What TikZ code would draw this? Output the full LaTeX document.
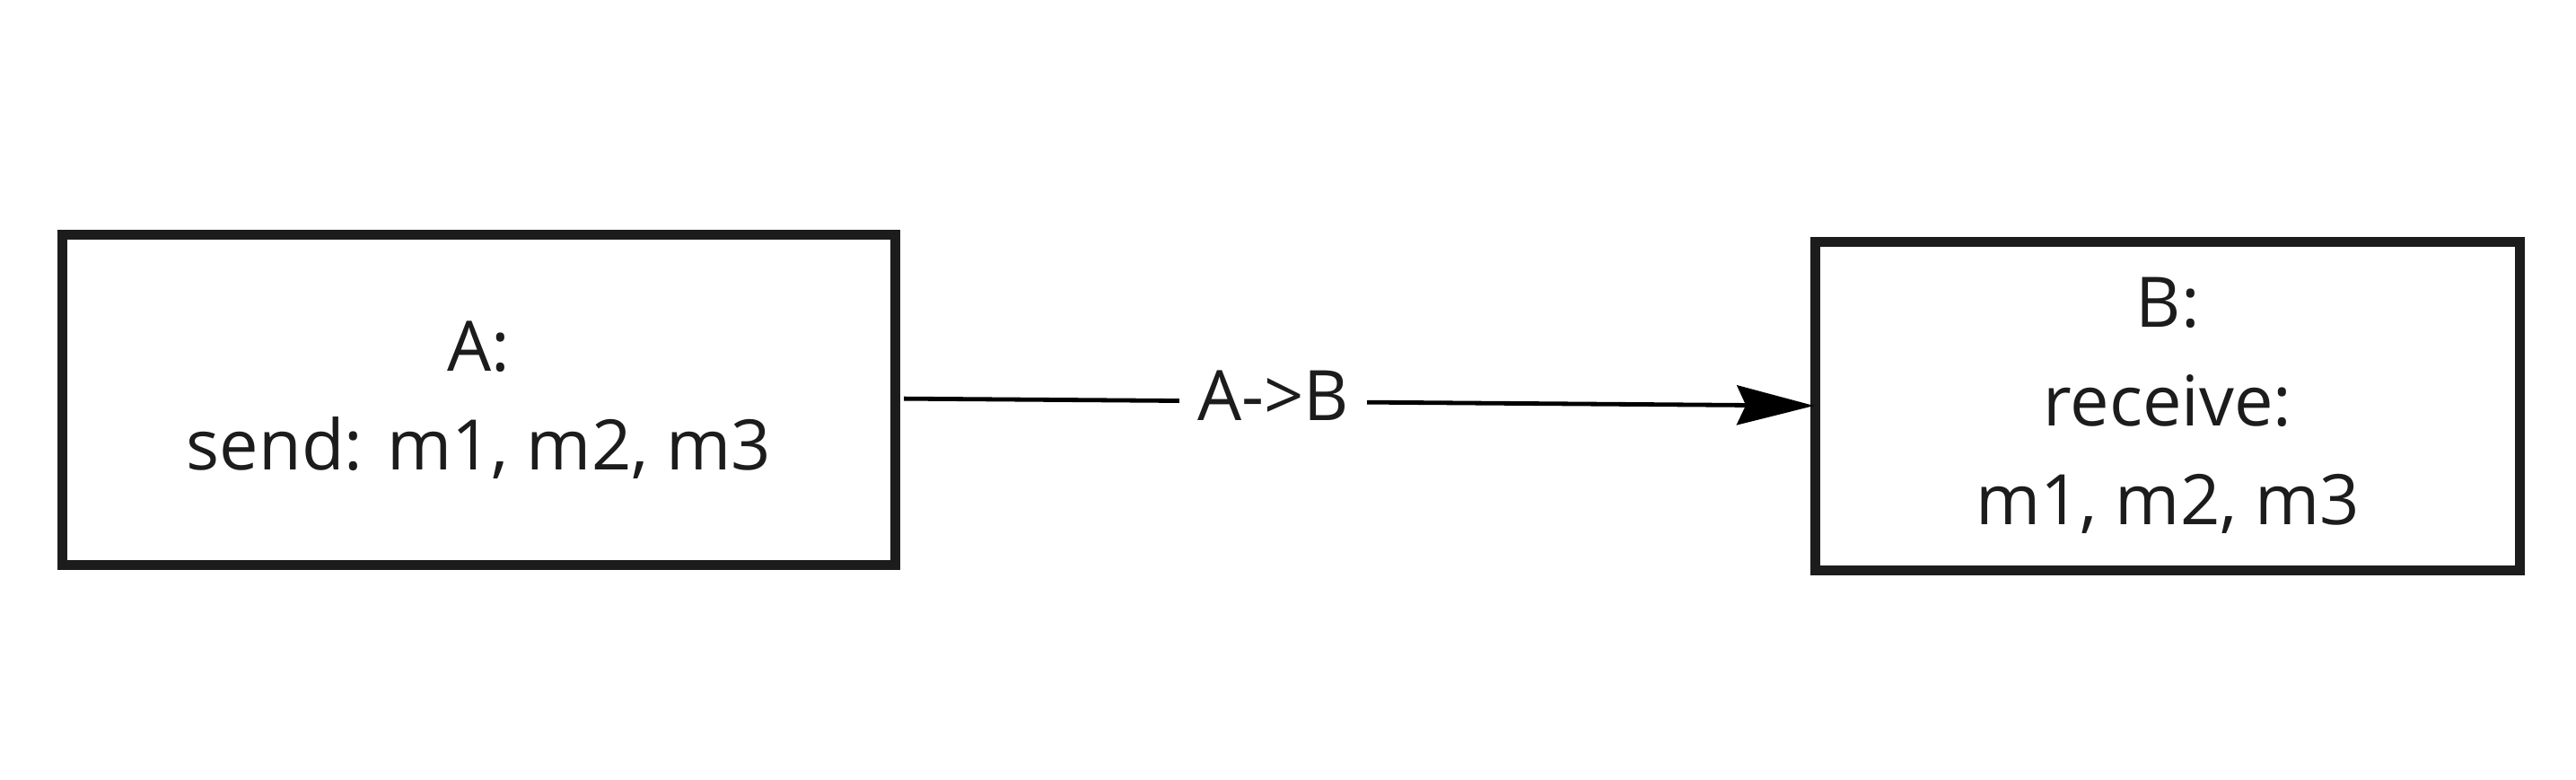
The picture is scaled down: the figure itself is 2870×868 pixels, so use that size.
\documentclass[tikz,border=0pt]{standalone}
\usepackage{fontspec}
\setmainfont{Open Sans}
\usetikzlibrary{arrows.meta}
\definecolor{ink}{HTML}{1C1C1C}
\begin{document}
\begin{tikzpicture}[x=0.5pt,y=-0.5pt,
  box/.style={draw=ink, line width=5.5pt, fill=white, inner sep=0pt,
    align=center, text=ink, font=\fontsize{38.8}{55}\selectfont},
  lbl/.style={fill=white, text=ink, inner xsep=10pt, inner ysep=2pt, font=\fontsize{38.8}{55}\selectfont},
  conn/.style={draw=black, line width=2.4pt, -{Stealth[length=43pt,width=22pt,inset=5pt]}}]
\useasboundingbox (0,0) rectangle (2870,868);
\node[box, minimum width=464pt, minimum height=184pt] (A) at (533.6,445.7) {A:\\send: m1, m2, m3};
\node[box, minimum width=392.6pt, minimum height=183pt] (B) at (2415.2,452) {B:\\receive:\\m1, m2, m3};
\draw[conn, shorten <=2pt, shorten >=-2pt] ([yshift=0.8pt]A.east) -- (B.west)
  node[lbl, pos=0.41, yshift=3.5pt] (L) {A->B};
\end{tikzpicture}
\end{document}
